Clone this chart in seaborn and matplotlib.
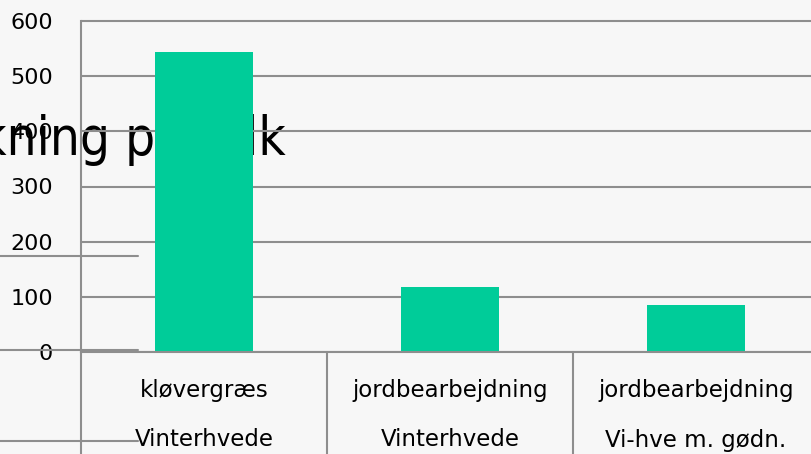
import matplotlib
matplotlib.use("Agg")
import matplotlib.pyplot as plt
import matplotlib.transforms as mtransforms
from matplotlib.lines import Line2D
import seaborn as sns
import pandas as pd

# ---- data ----
categories = ["kløvergræs\nVinterhvede", "jordbearbejdning\nVinterhvede", "jordbearbejdning\nVi-hve m. gødn."]
level1 = ["kløvergræs", "jordbearbejdning", "jordbearbejdning"]
level2 = ["Vinterhvede", "Vinterhvede", "Vi-hve m. gødn."]
values = [543, 118, 85]
yticks = [0, 100, 200, 300, 400, 500, 600]
title_text = "Kvælstofudvaskning pa folk"

sns.set_theme(style="white")
plt.rcParams['font.family'] = ['DejaVu Sans']
plt.rcParams['text.color'] = 'black'

BG = "#f7f7f7"
GRID = "#8e8e8e"
BAR = "#00cc99"

fig = plt.figure(figsize=(8.11, 4.54), dpi=100, facecolor=BG)
W, H = 811, 454
PX = (352 - 21) / 600.0  # pixels per unit
top_px = 19
ax = fig.add_axes([81 / W, 1 - 352 / H, (819 - 81) / W, (352 - top_px) / H])
ax.set_facecolor("none")

df = pd.DataFrame({"cat": categories, "val": values})
sns.barplot(data=df, x="cat", y="val", color=BAR, saturation=1, width=0.4, ax=ax,
            zorder=2, linewidth=0, edgecolor=BAR)

ax.set_xlim(-0.5, 2.5)
ax.set_ylim(0, (352 - top_px) / PX)
ax.set_yticks(yticks)
ax.set_yticklabels([str(t) for t in yticks], fontsize=16, color="black")
ax.set_xticks([])
ax.set_xlabel("")
ax.set_ylabel("")
ax.tick_params(axis="y", length=6.5, width=1.5, color=GRID, pad=13.5)
ax.set_axisbelow(True)
ax.grid(axis="y", color=GRID, linewidth=1.5)
for s in ["top", "right"]:
    ax.spines[s].set_visible(False)
ax.spines["left"].set_color(GRID)
ax.spines["left"].set_linewidth(1.5)
ax.spines["left"].set_bounds(0, 600)
ax.spines["bottom"].set_color(GRID)
ax.spines["bottom"].set_linewidth(1.5)

# title text partially hidden behind plot elements
ax.text(286 / W, 1 - 155 / H, title_text, transform=fig.transFigure, ha="right",
        va="baseline", fontsize=38, fontstretch="condensed", color="black",
        zorder=0.1, clip_on=False)

# multi-level category axis
trans = mtransforms.blended_transform_factory(ax.transData, ax.transAxes)
axh = (352 - top_px)
for xb in [-0.5, 0.5, 1.5]:
    ax.add_line(Line2D([xb, xb], [0, -(454 - 352) / axh], transform=trans,
                       color=GRID, linewidth=1.5, clip_on=False))
for i, (a, b) in enumerate(zip(level1, level2)):
    ax.text(i, -(390 - 352) / axh, a, transform=trans, ha="center", va="center",
            fontsize=16.5, color="black")
    ax.text(i, -(440 - 352) / axh, b, transform=trans, ha="center", va="center",
            fontsize=16.5, color="black")

# stray lines on the left
for yy in [256, 350, 441]:
    fig.add_artist(Line2D([0, 138 / W], [1 - yy / H, 1 - yy / H], transform=fig.transFigure,
                          color=GRID, linewidth=1.5))

fig.savefig("out.png", dpi=100, facecolor=BG)
